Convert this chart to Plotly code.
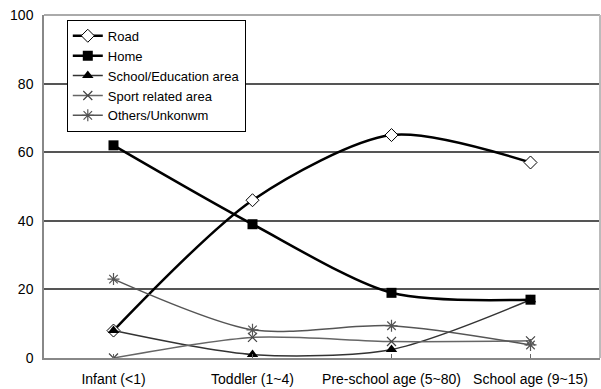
import plotly.graph_objects as go

categories = ["Infant (<1)", "Toddler (1~4)", "Pre-school age (5~80)", "School age (9~15)"]
road = [8, 46, 65, 57]
home = [62, 39, 19, 17]
school = [8, 1, 2.5, 17]
sport = [0, 6, 4.8, 5]
others = [23, 8.2, 9.4, 3.8]
y_ticks = [0, 20, 40, 60, 80, 100]

xs = list(range(len(categories)))

fig = go.Figure()

def add(name, vals, color, width, symbol, size, fill, mline_w=1):
    fig.add_trace(go.Scatter(
        x=xs, y=vals, name=name, mode="lines+markers",
        line=dict(color=color, width=width, shape="spline", smoothing=0.8),
        marker=dict(symbol=symbol, size=size, color=fill,
                    line=dict(color="black", width=mline_w)),
    ))

add("Road", road, "black", 2.5, "diamond", 10, "white", 1)
add("Home", home, "black", 2.5, "square", 10, "black", 0)
add("School/Education area", school, "#333333", 1.5, "triangle-up", 10, "black", 0)
fig.add_trace(go.Scatter(
    x=xs, y=sport, name="Sport related area", mode="lines+markers",
    line=dict(color="#666666", width=1.5, shape="spline", smoothing=0.8),
    marker=dict(symbol="x-thin", size=9, line=dict(color="#444444", width=1.2)),
))
fig.add_trace(go.Scatter(
    x=xs, y=others, name="Others/Unkonwm", mode="lines+markers",
    line=dict(color="#555555", width=1.5, shape="spline", smoothing=0.8),
    marker=dict(symbol="asterisk-open", size=10, line=dict(color="#333333", width=1.2)),
))

fig.update_layout(
    width=601, height=389,
    margin=dict(l=44, r=1, t=15, b=31, autoexpand=False),
    paper_bgcolor="white", plot_bgcolor="white",
    font=dict(family="Liberation Sans, Arial, sans-serif", size=14, color="black"),
    showlegend=True,
    legend=dict(
        x=0.041, y=0.986, xanchor="left", yanchor="top",
        bgcolor="white", bordercolor="black", borderwidth=1,
        font=dict(size=13, color="black"),
        tracegroupgap=0, itemwidth=30,
        entrywidth=150, entrywidthmode="pixels",
    ),
    xaxis=dict(
        range=[-0.5, 3.5], tickmode="array", tickvals=xs, ticktext=categories,
        showgrid=False, showline=True, linecolor="#888888", linewidth=1.5,
        ticks="inside", tickson="boundaries", ticklen=4, tickcolor="#666666",
        zeroline=False, fixedrange=True, automargin=False,
        ticklabelstandoff=7,
    ),
    yaxis=dict(
        range=[0, 100], tickmode="array", tickvals=y_ticks,
        showgrid=True, gridcolor="#555555", gridwidth=1.5,
        showline=True, linecolor="#888888", linewidth=1.5,
        ticks="", ticklabelstandoff=6, zeroline=False, fixedrange=True,
        automargin=False,
    ),
    shapes=[
        dict(type="line", xref="paper", yref="paper", x0=0, x1=1, y0=1, y1=1,
             line=dict(color="#aaaaaa", width=2), layer="above"),
        dict(type="line", xref="paper", yref="paper", x0=1, x1=1, y0=0, y1=1,
             line=dict(color="#bbbbbb", width=2), layer="above"),
    ],
)

fig.write_html("out.html", config={"displayModeBar": False},
               post_script="document.body.style.margin='0px';document.body.style.overflow='hidden';")
